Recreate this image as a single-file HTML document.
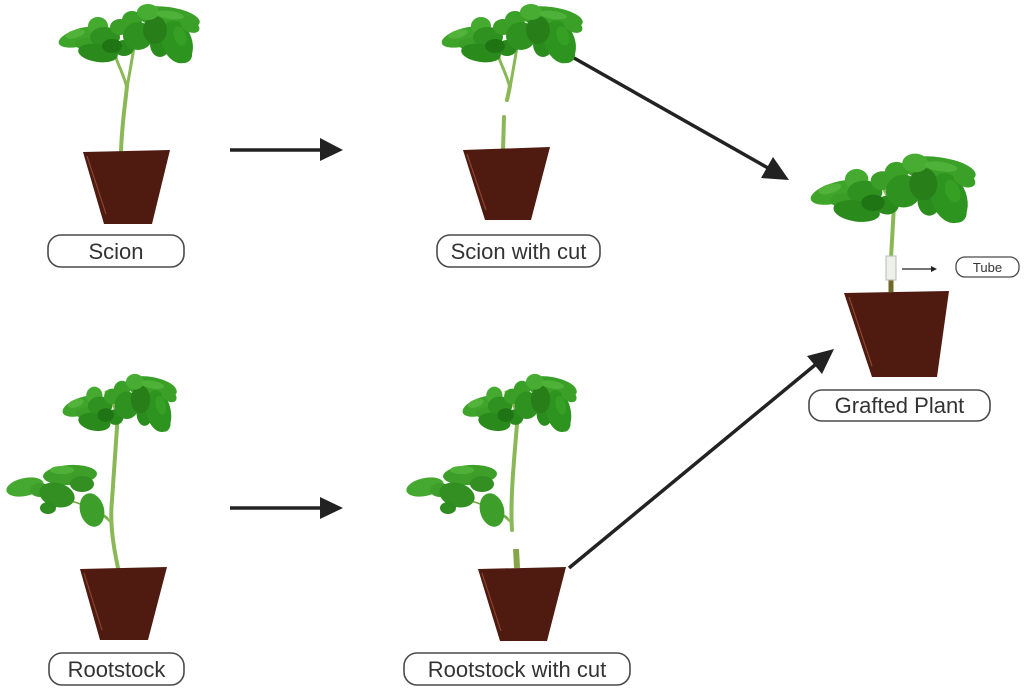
<!DOCTYPE html>
<html>
<head>
<meta charset="utf-8">
<style>
  html,body{margin:0;padding:0;background:#fff;}
  svg{display:block;}
  text{font-family:"Liberation Sans",Arial,sans-serif;fill:#333;}
</style>
</head>
<body>
<svg width="1024" height="692" viewBox="0 0 1024 692" xmlns="http://www.w3.org/2000/svg">
  <defs>
    <g id="canopy">
      <ellipse cx="82" cy="37" rx="24" ry="9" transform="rotate(-15 82 37)" fill="#3ea42a"/>
      <ellipse cx="88" cy="44" rx="13" ry="6" fill="#3a9e27"/>
      <ellipse cx="98" cy="26" rx="10" ry="9" fill="#45aa30"/>
      <ellipse cx="105" cy="37" rx="15" ry="10" fill="#2f9220"/>
      <ellipse cx="120" cy="27" rx="10" ry="8" fill="#3a9e27"/>
      <ellipse cx="132" cy="20" rx="10" ry="9" fill="#3aa028"/>
      <ellipse cx="98" cy="53" rx="20" ry="9" transform="rotate(8 98 53)" fill="#2a8a1c"/>
      <ellipse cx="124" cy="48" rx="10" ry="8" fill="#2a8a1c"/>
      <ellipse cx="112" cy="46" rx="10" ry="7" fill="#1f7514"/>
      <ellipse cx="138" cy="36" rx="15" ry="14" fill="#2f9220"/>
      <ellipse cx="168" cy="18" rx="32" ry="11" transform="rotate(8 168 18)" fill="#3aa028"/>
      <ellipse cx="160" cy="44" rx="10" ry="13" fill="#2b8c1e"/>
      <ellipse cx="177" cy="42" rx="15" ry="22" transform="rotate(-20 177 42)" fill="#2e9420"/>
      <ellipse cx="184" cy="55" rx="8" ry="8" fill="#2e9420"/>
      <ellipse cx="155" cy="30" rx="12" ry="14" fill="#287f1a"/>
      <ellipse cx="148" cy="12" rx="11" ry="8" fill="#47ac32"/>
      <ellipse cx="190" cy="26" rx="10" ry="6" transform="rotate(25 190 26)" fill="#3aa028"/>
      <ellipse cx="75" cy="34" rx="10" ry="4" transform="rotate(-15 75 34)" fill="#52b33a"/>
      <ellipse cx="170" cy="15" rx="14" ry="4" transform="rotate(8 170 15)" fill="#4fb238"/>
      <ellipse cx="180" cy="36" rx="6" ry="10" transform="rotate(-20 180 36)" fill="#36a025"/>
    </g>
    <g id="side">
      <path d="M108,518 C90,505 60,495 10,488" stroke="#6aa63a" stroke-width="1.5" fill="none"/>
      <ellipse cx="25" cy="487" rx="19" ry="9" transform="rotate(-12 25 487)" fill="#45a830"/>
      <ellipse cx="40" cy="490" rx="10" ry="7" fill="#3d9f29"/>
      <ellipse cx="70" cy="475" rx="27" ry="10" transform="rotate(-3 70 475)" fill="#3d9f29"/>
      <ellipse cx="82" cy="484" rx="12" ry="8" fill="#338f22"/>
      <ellipse cx="57" cy="495" rx="18" ry="12" transform="rotate(15 57 495)" fill="#338f22"/>
      <ellipse cx="92" cy="510" rx="12" ry="17" transform="rotate(-15 92 510)" fill="#3d9f29"/>
      <ellipse cx="48" cy="508" rx="8" ry="6" fill="#2f8c20"/>
      <ellipse cx="62" cy="470" rx="12" ry="4" fill="#4fb238"/>
    </g>
  </defs>

  <!-- Arrows -->
  <g stroke="#222" stroke-width="3.5" fill="none">
    <line x1="230" y1="150" x2="322" y2="150"/>
    <line x1="230" y1="508" x2="322" y2="508"/>
    <line x1="574" y1="58" x2="768" y2="168"/>
    <line x1="569" y1="568" x2="815" y2="365"/>
  </g>
  <g fill="#222">
    <polygon points="320,138 343,150 320,161"/>
    <polygon points="320,497 343,508 320,519"/>
    <polygon points="761,178 789,180 773,157"/>
    <polygon points="822,374 834,349 807,356"/>
  </g>

  <!-- ===== Scion ===== -->
  <g stroke="#8ab857" stroke-width="4" fill="none" stroke-linecap="round">
    <path d="M121,152 C122,120 126,100 127,85"/>
    <path d="M127,88 C124,75 118,65 115,55" stroke-width="3"/>
    <path d="M127,88 C130,70 133,55 135,40" stroke-width="3"/>
  </g>
  <use href="#canopy"/>
  <path d="M83,152 L170,150 L152,224 L104,224 Z" fill="#4f1a0f"/>
  <path d="M87,156 L106,214" stroke="#8a4534" stroke-width="1.2"/>

  <!-- ===== Scion with cut ===== -->
  <g stroke="#8ab857" stroke-width="4" fill="none" stroke-linecap="round">
    <path d="M503,150 L504,117"/>
    <path d="M507,100 C508,95 509,92 510,85"/>
    <path d="M510,88 C507,75 501,65 498,55" stroke-width="3"/>
    <path d="M510,88 C513,70 516,55 518,40" stroke-width="3"/>
  </g>
  <use href="#canopy" transform="translate(383,0)"/>
  <path d="M463,150 L550,147 L531,220 L485,220 Z" fill="#4f1a0f"/>
  <path d="M467,154 L486,210" stroke="#8a4534" stroke-width="1.2"/>

  <!-- ===== Grafted ===== -->
  <g stroke="#8ab857" stroke-width="4" fill="none" stroke-linecap="round">
    <path d="M891,258 C892,240 893,225 894,205"/>
    <path d="M894,210 C890,200 884,190 880,182" stroke-width="3"/>
    <path d="M894,210 C897,195 900,185 902,172" stroke-width="3"/>
  </g>
  <path d="M891,292 L891,279" stroke="#6f6a28" stroke-width="5"/>
  <use href="#canopy" transform="translate(742,149) scale(1.17)"/>
  <rect x="886" y="256" width="10" height="24" fill="#eef0ec" stroke="#b8bdb4" stroke-width="1"/>
  <path d="M844,293 L949,291 L937,377 L872,377 Z" fill="#4f1a0f"/>
  <path d="M849,297 L872,366" stroke="#8a4534" stroke-width="1.2"/>
  <line x1="902" y1="269" x2="932" y2="269" stroke="#222" stroke-width="1.3"/>
  <polygon points="931,266 937,269 931,272" fill="#222"/>

  <!-- ===== Rootstock ===== -->
  <g stroke="#8ab857" stroke-width="4" fill="none" stroke-linecap="round">
    <path d="M118,568 C112,540 110,520 112,500 C114,470 116,440 118,413"/>
    <path d="M118,416 C114,405 110,398 106,392" stroke-width="3"/>
    <path d="M118,416 C121,402 124,392 127,382" stroke-width="3"/>
    <path d="M111,522 L104,516" stroke-width="2.5"/>
  </g>
  <use href="#side"/>
  <use href="#canopy" transform="translate(15,370) scale(0.81,0.98)"/>
  <path d="M80,569 L167,567 L148,640 L100,640 Z" fill="#4f1a0f"/>
  <path d="M84,573 L102,630" stroke="#8a4534" stroke-width="1.2"/>

  <!-- ===== Rootstock with cut ===== -->
  <g stroke="#8ab857" stroke-width="4" fill="none" stroke-linecap="round">
    <path d="M512,530 C510,500 514,460 518,413"/>
    <path d="M518,416 C514,405 510,398 506,392" stroke-width="3"/>
    <path d="M518,416 C521,402 524,392 527,382" stroke-width="3"/>
    <path d="M511,522 L504,516" stroke-width="2.5"/>
  </g>
  <path d="M517,568 L516,549" stroke="#86a448" stroke-width="6" stroke-linecap="butt"/>
  <use href="#side" transform="translate(400,0)"/>
  <use href="#canopy" transform="translate(415,370) scale(0.81,0.98)"/>
  <path d="M478,569 L566,567 L547,641 L500,641 Z" fill="#4f1a0f"/>
  <path d="M482,573 L501,631" stroke="#8a4534" stroke-width="1.2"/>

  <!-- ===== Labels ===== -->
  <g fill="#fff" stroke="#4a4a4a" stroke-width="1.6">
    <rect x="48" y="235" width="136" height="32" rx="13"/>
    <rect x="437" y="235" width="163" height="32" rx="13"/>
    <rect x="809" y="390" width="181" height="31" rx="13"/>
    <rect x="49" y="653" width="135" height="32" rx="13"/>
    <rect x="404" y="653" width="226" height="32" rx="13"/>
    <rect x="956" y="257" width="63" height="20" rx="9" stroke-width="1.3"/>
  </g>
  <g font-size="22" text-anchor="middle">
    <text x="116" y="259">Scion</text>
    <text x="518.5" y="259">Scion with cut</text>
    <text x="899.5" y="413">Grafted Plant</text>
    <text x="116.5" y="677">Rootstock</text>
    <text x="517" y="677">Rootstock with cut</text>
  </g>
  <text x="987.5" y="272" font-size="13" text-anchor="middle">Tube</text>
</svg>
</body>
</html>
